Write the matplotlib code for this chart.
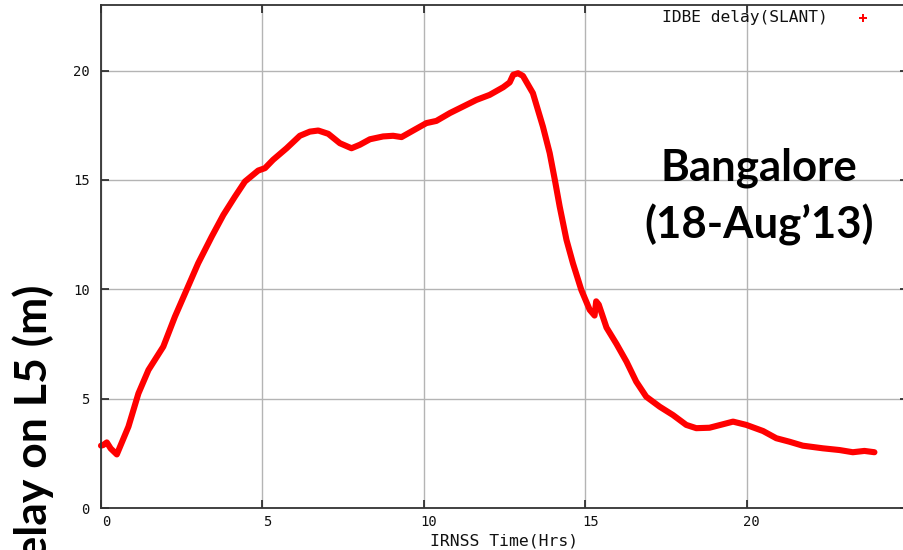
import matplotlib
matplotlib.use("Agg")
import matplotlib.pyplot as plt
import matplotlib.transforms as mtransforms

hours = [0.00, 0.07, 0.18, 0.30, 0.49, 0.85, 1.16, 1.47, 1.93, 2.29, 2.65, 3.01,
         3.43, 3.79, 4.15, 4.46, 4.87, 5.08, 5.33, 5.75, 6.16, 6.47, 6.73, 7.04,
         7.40, 7.76, 8.02, 8.33, 8.74, 9.05, 9.31, 9.67, 10.08, 10.39, 10.81,
         11.22, 11.63, 12.04, 12.46, 12.66, 12.77, 12.92, 13.07, 13.38, 13.69,
         13.90, 14.06, 14.21, 14.42, 14.62, 14.88, 15.14, 15.29, 15.34, 15.42,
         15.66, 15.97, 16.28, 16.58, 16.89, 17.31, 17.72, 18.13, 18.44, 18.85,
         19.27, 19.58, 19.99, 20.51, 20.92, 21.33, 21.74, 22.36, 22.88, 23.29,
         23.65, 23.96]
delay = [2.85, 2.88, 3.00, 2.72, 2.45, 3.72, 5.24, 6.31, 7.38, 8.75, 9.97, 11.19,
         12.41, 13.40, 14.24, 14.93, 15.43, 15.54, 15.92, 16.45, 17.02, 17.21, 17.26, 17.11,
         16.68, 16.45, 16.61, 16.86, 16.99, 17.02, 16.96, 17.26, 17.60, 17.70, 18.06,
         18.36, 18.66, 18.89, 19.24, 19.46, 19.81, 19.88, 19.76, 18.97, 17.44,
         16.23, 15.00, 13.78, 12.26, 11.19, 9.97, 9.06, 8.80, 9.45, 9.30,
         8.25, 7.50, 6.69, 5.78, 5.09, 4.63, 4.25, 3.80, 3.65, 3.67,
         3.83, 3.95, 3.80, 3.52, 3.19, 3.03, 2.85, 2.73, 2.65, 2.55,
         2.61, 2.55]

xticks = [0, 5, 10, 15, 20, 25]
yticks = [0, 5, 10, 15, 20]
series_label = "IDBE delay(SLANT)"
xlabel = "IRNSS Time(Hrs)"
ylabel = "Ionospheric delay on L5 (m)"
station = "Bangalore"
date = "(18-Aug\u201913)"

W, H = 904, 550
fig = plt.figure(figsize=(W / 100, H / 100), dpi=100)
fig.patch.set_facecolor("white")

ax = fig.add_axes([101 / W, (H - 508) / H, 807 / W, 503 / H])
ax.set_xlim(0, 25)
ax.set_ylim(0, 23)
ax.set_xticks(xticks)
ax.set_yticks(yticks)
ax.grid(True, color="#b4b4b4", linewidth=1.0)
ax.set_axisbelow(True)

for s in ax.spines.values():
    s.set_color("#333333")
    s.set_linewidth(1.3)

mono = "DejaVu Sans Mono"
ax.tick_params(axis="both", direction="in", length=6, width=1.2, color="#222222",
               top=True, right=True, labelsize=10)
ax.tick_params(axis="y", pad=8)
ax.tick_params(axis="x", pad=5)
for lab in ax.get_xticklabels() + ax.get_yticklabels():
    lab.set_fontfamily(mono)
    lab.set_color("#111111")
off = mtransforms.ScaledTranslation(5 / 100, 0, fig.dpi_scale_trans)
for lab in ax.get_xticklabels():
    lab.set_transform(lab.get_transform() + off)

ax.plot(hours, delay, color="#ff0000", linewidth=4.4, solid_capstyle="round",
        solid_joinstyle="round", clip_on=False)

# legend entry (gnuplot style)
fig.text(828 / W, 1 - 17.5 / H, series_label, ha="right", va="center",
         fontfamily=mono, fontsize=11.7, color="#111111")
ax.plot([863 / W], [1 - 17.5 / H], marker="+", color="#ff0000", markersize=6,
        markeredgewidth=1.4, transform=fig.transFigure, clip_on=False)

# x label
fig.text(504 / W, 1 - 541 / H, xlabel, ha="center", va="center",
         fontfamily=mono, fontsize=11.8, color="#111111")

# y label (cropped at the bottom as in the reference)
fig.text(33 / W, 1 - 285 / H, ylabel, rotation=90, ha="center", va="top",
         fontfamily="Lato", fontweight="bold", fontsize=32, color="black")

# station annotation
fig.text(759 / W, 1 - 180 / H, station, ha="center", va="baseline",
         fontfamily="Lato", fontweight="bold", fontsize=31.5, color="black")
fig.text(759 / W, 1 - 238 / H, date, ha="center", va="baseline",
         fontfamily="Lato", fontweight="bold", fontsize=31.5, color="black")

fig.savefig("out.png", dpi=100, facecolor="white")
